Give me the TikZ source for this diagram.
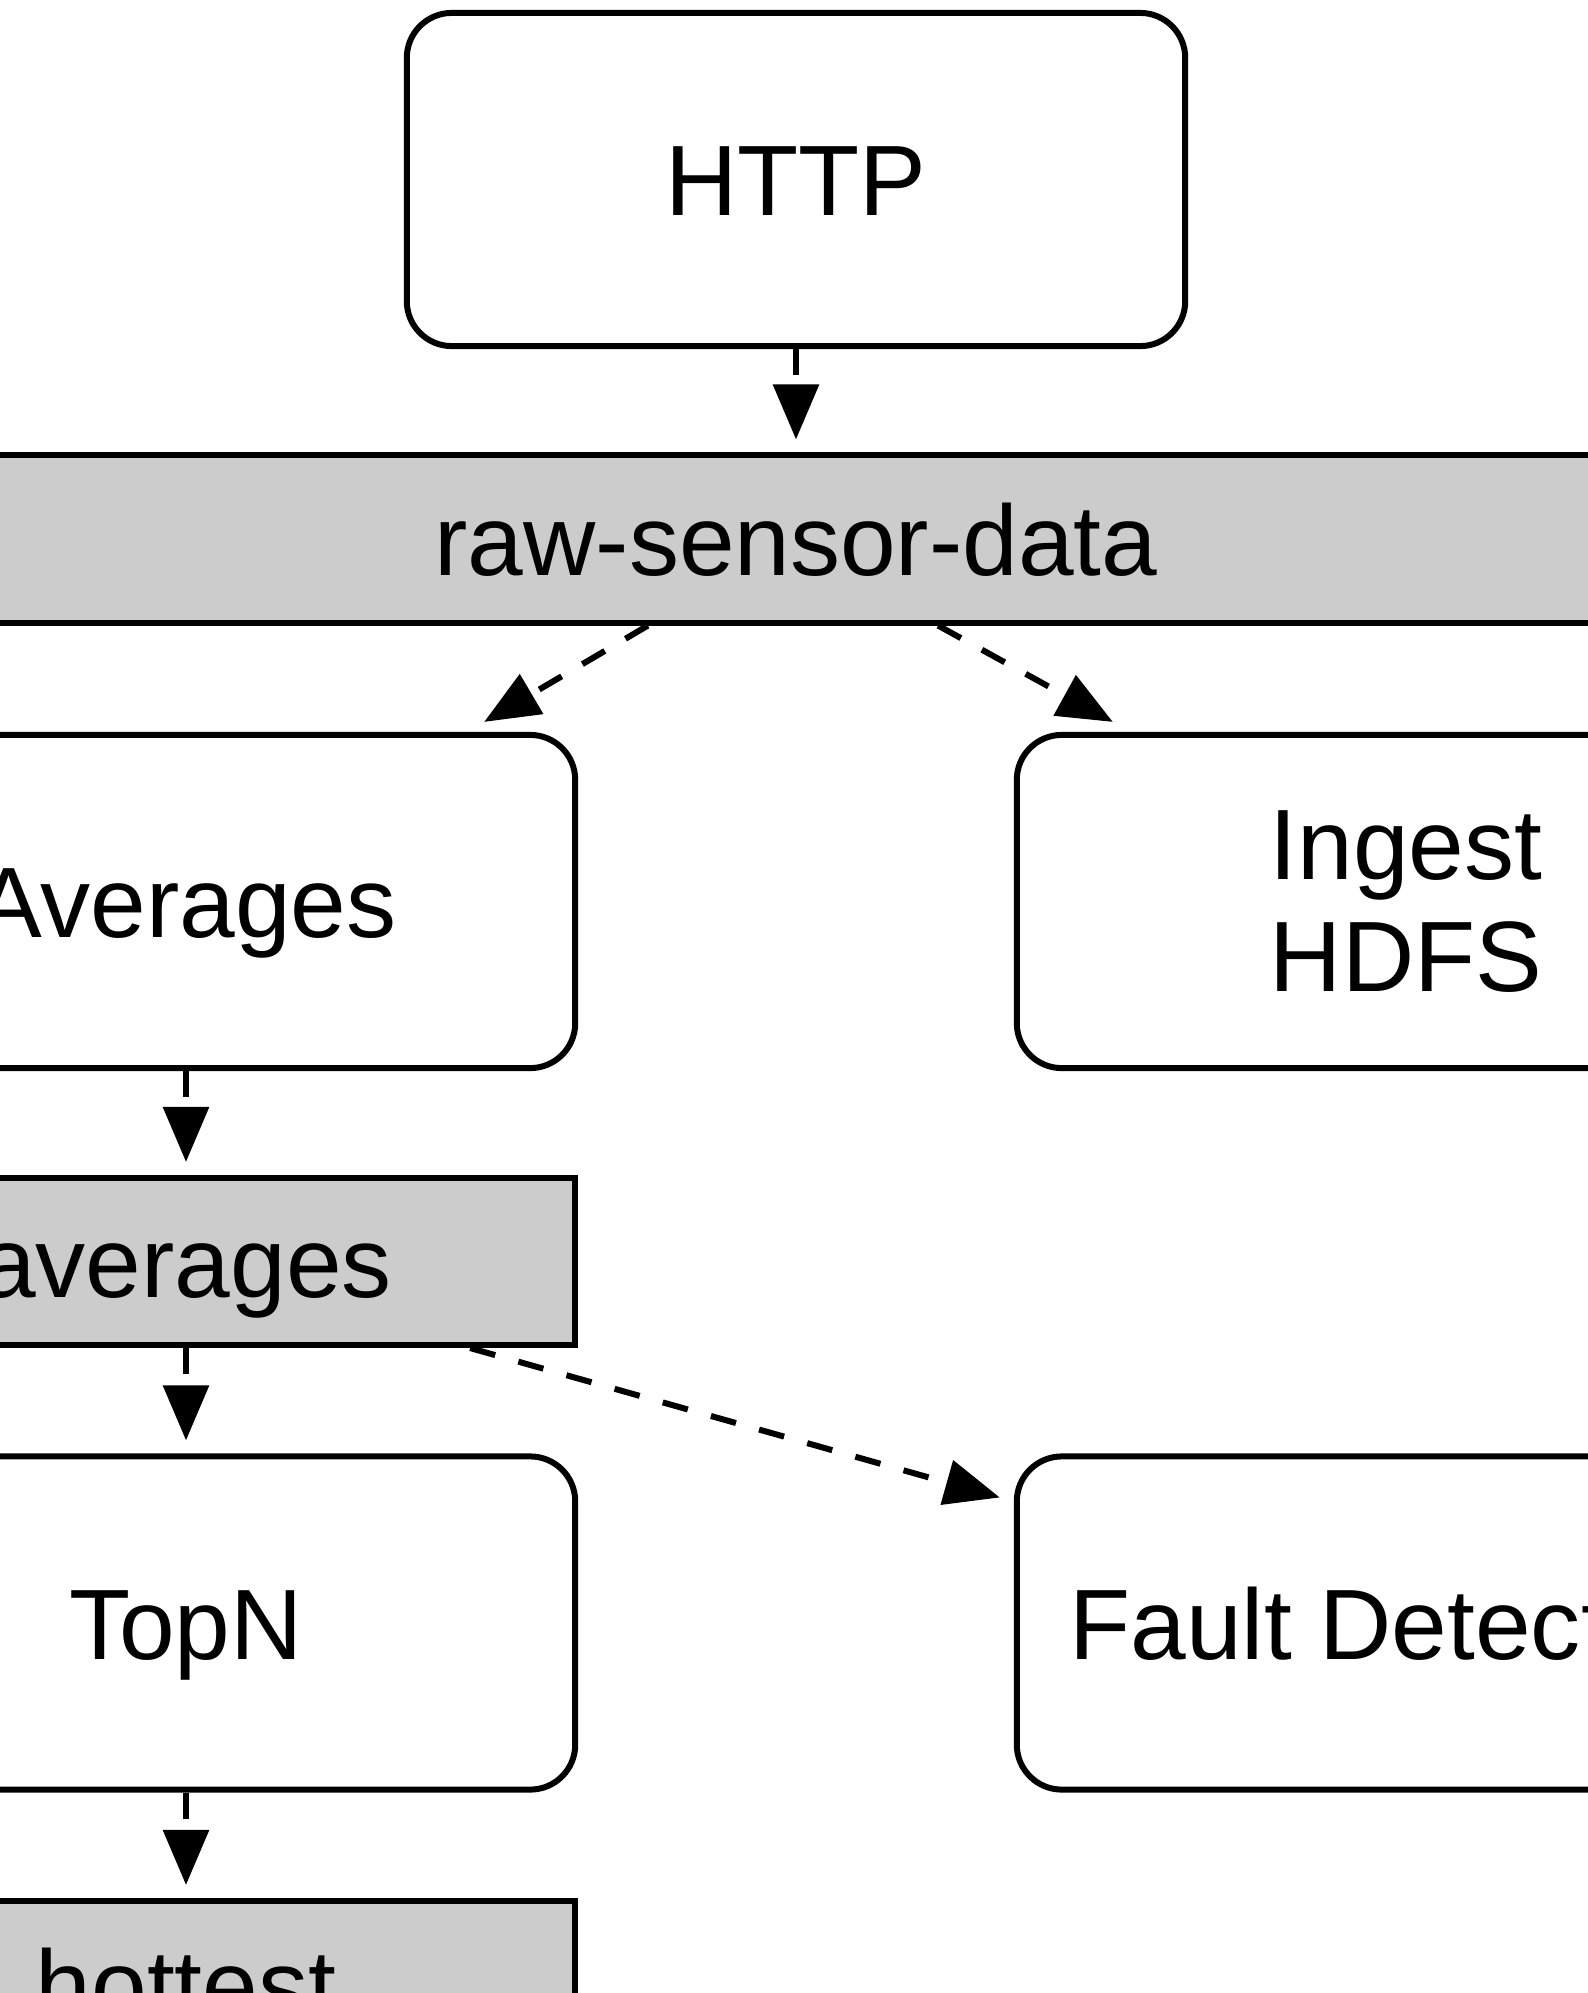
\documentclass[tikz,border=0pt]{standalone}
\usepackage{fontspec}
\setmainfont{Liberation Sans}
\usepackage{tikz}
\usetikzlibrary{arrows.meta}
\definecolor{topicgray}{HTML}{CCCCCC}

\begin{document}
\begin{tikzpicture}
[x=0.01cm, y=-0.01cm, font=\fontsize{28.45pt}{31.9pt}\selectfont]
\tikzset{
	caps/.style = {text height=0.72cm, text depth=0pt},
	task/.style = {rectangle, draw, line width=0.06cm, rounded corners=0.45cm, minimum width=7.78cm, minimum height=3.33cm, inner sep=0, align=center},
	topic/.style = {rectangle, draw, line width=0.06cm, fill=topicgray, minimum height=1.67cm, inner sep=0, caps},
	flow/.style = {-{Triangle[length=0.55cm, width=0.45cm]}, line width=0.06cm, dash pattern=on 0.26cm off 0.24cm}
}
\useasboundingbox (0,0) rectangle (1588,1993);
\clip (0,0) rectangle (1588,1993);

% processors and topics
\node (http) [task, caps] at (796,179.5) {HTTP};
\node (raw) [topic, minimum width=18cm] at (796,539) {raw-sensor-data};
\node (avg) [task, caps] at (186,901.5) {Averages};
\node (ingest) [task] at (1406,901.5) {Ingest\\HDFS};
\node (avgtopic) [topic, minimum width=7.78cm] at (186,1261.5) {averages};
\node (topn) [task, caps] at (186,1623) {TopN};
\node (fault) [task, caps] at (1406,1623) {Fault Detection};
\node (hottest) [topic, minimum width=7.78cm] at (186,1984.5) {hottest};

% streams
\draw [flow, shorten >=0.13cm] (http.south) -- (raw.north);
\draw [flow] ([xshift=-1.48cm]raw.south) -- ([xshift=-0.94cm, yshift=0.1cm]avg.north east);
\draw [flow] ([xshift=1.42cm]raw.south) -- ([xshift=0.99cm, yshift=0.1cm]ingest.north west);
\draw [flow, shorten >=0.13cm] (avg.south) -- (avgtopic.north);
\draw [flow, shorten >=0.13cm] (avgtopic.south) -- (topn.north);
\draw [flow] ([xshift=2.84cm]avgtopic.south) -- ([xshift=-0.14cm, yshift=-0.44cm]fault.north west);
\draw [flow, shorten >=0.13cm] (topn.south) -- (hottest.north);

\end{tikzpicture}
\end{document}
